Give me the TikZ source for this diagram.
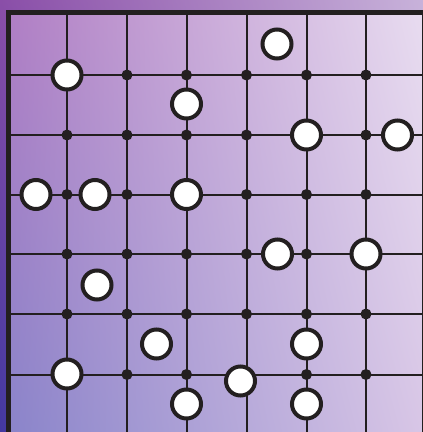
\documentclass[tikz,border=0pt]{standalone}
\usetikzlibrary{calc,shadings}
\definecolor{ink}{HTML}{231F20}
\definecolor{bgUL}{HTML}{8A4EA8}
\definecolor{bgUR}{HTML}{C8B2DA}
\definecolor{bgLL}{HTML}{4338A0}
\definecolor{bgLR}{HTML}{B8A6D8}
\definecolor{inUL}{HTML}{B07EC4}
\definecolor{inUR}{HTML}{E8DCF0}
\definecolor{inLL}{HTML}{8A84CA}
\definecolor{inLR}{HTML}{D8C6E6}
\tikzset{
  gridline/.style={draw=ink, line width=2pt},
  frame/.style={draw=ink, line width=5pt, line join=miter},
  dotnode/.style={circle, fill=ink, inner sep=0pt, minimum size=11pt},
  stone/.style={circle, draw=ink, line width=4pt, fill=white, inner sep=0pt, minimum size=29pt}
}
\begin{document}
\begin{tikzpicture}[x=1pt,y=-1pt]
\useasboundingbox (0,0) rectangle (423,432);
% background
\shade[upper left=bgUL, upper right=bgUR, lower left=bgLL, lower right=bgLR] (0,0) rectangle (423,432);
\shade[upper left=inUL, upper right=inUR, lower left=inLL, lower right=inLR] (8.5,12.5) rectangle (423,432);
% grid
\foreach \x in {67,127,186.5,246.5,306.5,366,422.5}
  \draw[gridline] (\x,12.5) -- (\x,432);
\foreach \y in {75,135,194.5,254,314,374.5}
  \draw[gridline] (8.5,\y) -- (423,\y);
% frame
\draw[frame] (8.5,432) -- (8.5,12.5) -- (423,12.5);
% dots
\foreach \x/\n in {127/2,186.5/3,246.5/4,306.5/5,366/6}
  \node[dotnode] (d1\n) at (\x,75) {};
\foreach \x/\n in {67/1,127/2,186.5/3,246.5/4,366/6}
  \node[dotnode] (d2\n) at (\x,135) {};
\foreach \x/\n in {67/1,127/2,246.5/4,306.5/5,366/6}
  \node[dotnode] (d3\n) at (\x,194.5) {};
\foreach \x/\n in {67/1,127/2,186.5/3,246.5/4,306.5/5}
  \node[dotnode] (d4\n) at (\x,254) {};
\foreach \x/\n in {67/1,127/2,186.5/3,246.5/4,306.5/5,366/6}
  \node[dotnode] (d5\n) at (\x,314) {};
\foreach \x/\n in {127/2,186.5/3,306.5/5,366/6}
  \node[dotnode] (d6\n) at (\x,374.5) {};
% stones
\node[stone] (s1) at (67,75) {};
\node[stone] (s2) at (277,44) {};
\node[stone] (s3) at (186.5,104) {};
\node[stone] (s4) at (306.5,135) {};
\node[stone] (s5) at (397.5,135) {};
\node[stone] (s6) at (36,194.5) {};
\node[stone] (s7) at (95,194.5) {};
\node[stone] (s8) at (186.5,194.5) {};
\node[stone] (s9) at (277.5,254) {};
\node[stone] (s10) at (366,254) {};
\node[stone] (s11) at (97,285) {};
\node[stone] (s12) at (156.5,344) {};
\node[stone] (s13) at (306.5,344) {};
\node[stone] (s14) at (67,374) {};
\node[stone] (s15) at (240.5,381) {};
\node[stone] (s16) at (186.5,404) {};
\node[stone] (s17) at (306.5,404) {};
\end{tikzpicture}
\end{document}
